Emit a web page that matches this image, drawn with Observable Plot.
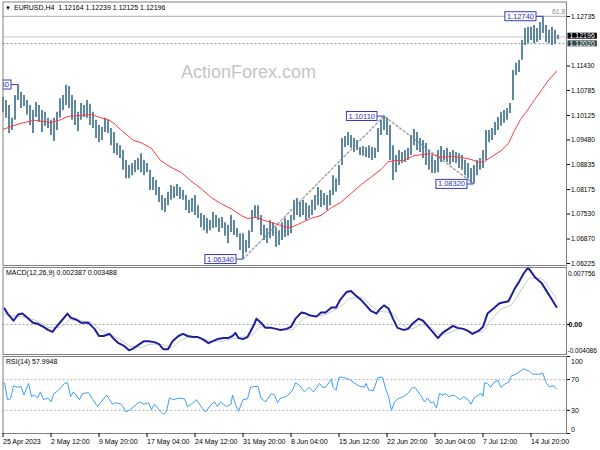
<!DOCTYPE html>
<html><head><meta charset="utf-8">
<script src="https://cdn.jsdelivr.net/npm/d3@7"></script>
<script src="https://cdn.jsdelivr.net/npm/@observablehq/plot@0.6"></script>
<style>
html,body{margin:0;padding:0;background:#fff;}
#chart{position:relative;width:600px;height:450px;overflow:hidden;}
#chart svg{display:block;}
</style></head><body><div id="chart"></div>
<script>
// ---------- DATA ----------
const symbol = "EURUSD,H4";
const lastOHLC = [1.12164, 1.12239, 1.12125, 1.12196];
const watermark = "ActionForex.com";
const fibLevel = 1.1274;
const fibLabel = "61.8";
const levelLine = 1.12020;

// H4 candles, one entry per 2 bars (bar index = 2*k)
const highs = [
 1.1060,1.1052,1.1039,1.1005,1.1065,1.1094,1.1073,1.1065,1.1052,1.1039,
 1.1026,1.1047,1.1039,1.1026,1.1021,1.1005,1.1000,1.1005,1.1021,1.1057,
 1.1065,1.1092,1.1089,1.1065,1.1052,1.1021,1.1044,1.1039,1.1052,1.1042,
 1.1021,1.1000,1.0986,1.0981,1.1005,1.1000,1.0978,1.0968,1.0939,1.0933,
 1.0920,1.0894,1.0881,1.0886,1.0894,1.0899,1.0912,1.0894,1.0886,1.0868,
 1.0849,1.0841,1.0823,1.0802,1.0794,1.0810,1.0828,1.0825,1.0831,1.0823,
 1.0815,1.0802,1.0789,1.0794,1.0802,1.0775,1.0754,1.0749,1.0741,1.0736,
 1.0757,1.0749,1.0741,1.0744,1.0730,1.0723,1.0749,1.0736,1.0715,1.0701,
 1.0701,1.0683,1.0709,1.0762,1.0775,1.0775,1.0749,1.0723,1.0715,1.0736,
 1.0730,1.0717,1.0709,1.0730,1.0741,1.0736,1.0749,1.0789,1.0794,1.0783,
 1.0789,1.0781,1.0775,1.0789,1.0802,1.0823,1.0815,1.0807,1.0802,1.0815,
 1.0854,1.0846,1.0881,1.0952,1.0957,1.0968,1.0960,1.0952,1.0947,1.0928,
 1.0931,1.0928,1.0933,1.0928,1.0926,1.0978,1.1000,1.1011,1.1005,1.0986,
 1.0933,1.0907,1.0920,1.0915,1.0920,1.0926,1.0960,1.0976,1.0968,1.0952,
 1.0947,1.0939,1.0920,1.0907,1.0894,1.0920,1.0931,1.0920,1.0926,1.0915,
 1.0920,1.0915,1.0912,1.0907,1.0894,1.0886,1.0873,1.0881,1.0894,1.0899,
 1.0920,1.0973,1.0973,1.0978,1.0994,1.1007,1.1021,1.1026,1.1031,1.1044,
 1.1131,1.1150,1.1158,1.1210,1.1242,1.1245,1.1245,1.1250,1.1242,1.1258,
 1.1274,1.1250,1.1237,1.1245,1.1237,1.12239];
const lows = [
 1.1021,1.1005,1.0965,1.0973,1.1000,1.1052,1.1031,1.1036,1.1013,1.0986,
 1.0965,1.1007,1.0994,1.0968,1.0984,1.0978,1.0960,1.0944,1.0973,1.1005,
 1.1026,1.1039,1.1031,1.1000,1.0986,1.0970,1.1000,1.1007,1.1005,1.0986,
 1.0978,1.0952,1.0941,1.0947,1.0968,1.0965,1.0933,1.0912,1.0907,1.0899,
 1.0868,1.0846,1.0846,1.0854,1.0862,1.0868,1.0862,1.0854,1.0862,1.0815,
 1.0815,1.0802,1.0783,1.0762,1.0757,1.0775,1.0789,1.0794,1.0799,1.0791,
 1.0789,1.0762,1.0754,1.0757,1.0749,1.0741,1.0717,1.0709,1.0701,1.0709,
 1.0715,1.0717,1.0704,1.0715,1.0694,1.0675,1.0704,1.0696,1.0691,1.0657,
 1.0634,1.0651,1.0662,1.0704,1.0741,1.0736,1.0696,1.0683,1.0675,1.0688,
 1.0694,1.0665,1.0670,1.0683,1.0691,1.0694,1.0701,1.0736,1.0749,1.0744,
 1.0749,1.0736,1.0741,1.0749,1.0762,1.0775,1.0770,1.0775,1.0762,1.0775,
 1.0802,1.0810,1.0828,1.0881,1.0928,1.0933,1.0926,1.0915,1.0920,1.0907,
 1.0905,1.0902,1.0899,1.0894,1.0899,1.0915,1.0960,1.0973,1.0960,1.0894,
 1.0841,1.0862,1.0881,1.0886,1.0889,1.0894,1.0907,1.0933,1.0920,1.0915,
 1.0899,1.0881,1.0868,1.0860,1.0860,1.0862,1.0889,1.0894,1.0889,1.0883,
 1.0889,1.0886,1.0873,1.0868,1.0854,1.0846,1.0833,1.0832,1.0854,1.0868,
 1.0873,1.0894,1.0941,1.0947,1.0960,1.0973,1.0984,1.0992,1.1000,1.1018,
 1.1052,1.1118,1.1126,1.1158,1.1197,1.1202,1.1210,1.1202,1.1205,1.1210,
 1.1229,1.1205,1.1202,1.1197,1.1200,1.12125];

// EMA (red)
const emaBar = [0,12,21,32,39,43,52,59,65,70, 74,79,87,92,99,105,112,119,125,132,
 139,145,152,159,163,169,174,181,187,192, 199,205,212,219,225,232,239,245,252,257,
 262,267,274,285,292,299,305,312,317,321, 325,332,337,341,345,350,354,359,363,369];
const emaVal = [1.0976,1.0992,1.1000,1.0994,1.1002,1.1010,1.1013,1.1015,1.1007,1.1002,
 1.0992,1.0973,1.0947,1.0941,1.0926,1.0894,1.0876,1.0862,1.0841,1.0820,
 1.0796,1.0781,1.0767,1.0749,1.0741,1.0744,1.0736,1.0728,1.0720,1.0717,
 1.0730,1.0741,1.0749,1.0770,1.0783,1.0807,1.0831,1.0849,1.0870,1.0891,
 1.0894,1.0894,1.0907,1.0912,1.0902,1.0905,1.0902,1.0897,1.0889,1.0891,
 1.0902,1.0920,1.0939,1.0973,1.1002,1.1028,1.1052,1.1079,1.1102,1.1129];

// swing highs / lows (labels) and zigzag
const swingBar = [10, 160, 254, 314, 360];
const swingPrice = [1.1094, 1.0634, 1.1011, 1.0832, 1.1274];
const zigBar = [160, 254, 314];
const zigPrice = [1.0634, 1.1011, 1.0832];

const priceTicks = [1.12735,1.11430,1.10785,1.10125,1.09480,1.08835,1.08175,1.07530,1.06870,1.06225];

// MACD
const macdBar = [1,3,7,10,13,17,20,23,27,30, 33,35,39,43,45,49,52,55,57,61,
 64,67,71,74,77,81,84,87,91,94, 97,101,104,107,110,113,117,120,123,127,
 130,133,137,140,143,147,150,153,155,157, 160,163,167,169,172,175,179,182,185,189,
 192,195,199,202,205,209,212,215,219,222, 225,229,232,235,239,242,245,249,251,254,
 257,260,263,267,270,273,277,280,283,287, 290,293,297,300,303,307,310,313,317,320,
 323,327,331,334,337,341,344,347,350,352, 355,359,362,365,369];
const macdMain = [0.00218,0.00149,0.00051,0.00135,0.00149,0.00079,0.00024,0.00010,-0.00032,-0.00074,
 -0.00101,-0.00046,0.00051,0.00149,0.00093,0.00065,0.00024,0.00024,0.00022,-0.00060,
 -0.00157,-0.00157,-0.00129,-0.00199,-0.00254,-0.00296,-0.00352,-0.00324,-0.00268,-0.00227,
 -0.00227,-0.00240,-0.00268,-0.00338,-0.00338,-0.00227,-0.00157,-0.00129,-0.00157,-0.00171,
 -0.00171,-0.00199,-0.00254,-0.00227,-0.00199,-0.00185,-0.00185,-0.00157,-0.00115,-0.00185,
 -0.00199,-0.00171,-0.00018,0.00079,0.00024,-0.00046,-0.00046,-0.00060,-0.00074,-0.00060,
 -0.00032,0.00079,0.00163,0.00149,0.00121,0.00107,0.00163,0.00163,0.00232,0.00232,
 0.00343,0.00441,0.00455,0.00399,0.00329,0.00260,0.00190,0.00149,0.00204,0.00260,
 0.00218,0.00079,-0.00046,-0.00074,-0.00060,0.00010,0.00079,0.00051,-0.00018,-0.00115,
 -0.00185,-0.00115,-0.00060,-0.00018,-0.00046,-0.00060,-0.00088,-0.00129,-0.00088,-0.00032,
 0.00149,0.00218,0.00288,0.00302,0.00316,0.00482,0.00580,0.00691,0.00775,0.00720,
 0.00635,0.00566,0.00468,0.00371,0.002387];
const signalBar = [1,5,12,19,25,32,39,45,52,59, 65,72,79,85,92,99,105,112,119,125,
 132,139,145,152,159,165,172,179,185,192, 199,205,212,219,225,232,239,245,252,259,
 265,272,279,285,292,299,305,312,319,325, 332,339,345,352,359,365,369];
const signalVal = [0.00149,0.00121,0.00107,0.00079,0.00024,-0.00046,-0.00032,0.00065,0.00051,0.00024,
 -0.00074,-0.00143,-0.00213,-0.00296,-0.00310,-0.00268,-0.00268,-0.00310,-0.00213,-0.00171,
 -0.00185,-0.00227,-0.00227,-0.00199,-0.00171,-0.00157,-0.00032,-0.00046,-0.00074,-0.00074,
 0.00051,0.00121,0.00121,0.00177,0.00246,0.00357,0.00371,0.00260,0.00177,0.00163,
 0.00024,-0.00060,-0.00004,-0.00032,-0.00143,-0.00101,-0.00060,-0.00101,-0.00101,0.00051,
 0.00204,0.00274,0.00455,0.00635,0.00621,0.00468,0.003488];
const macdMax = 0.007756, macdMin = -0.004086, macdZero = 0;

// RSI(14)
const rsiBar = [1,3,5,7,10,12,14,17,19,21, 23,25,27,30,32,34,37,41,43,45,
 47,51,53,57,60,63,65,69,71,73, 75,79,82,85,89,91,94,97,99,101,
 104,107,109,111,114,117,121,123,127,129, 132,135,139,141,143,145,149,152,153,155,
 157,160,163,165,167,170,172,175,179,181, 183,185,189,191,193,195,198,199,201,204,
 207,209,211,213,215,219,220,222,224,227, 231,234,237,241,242,244,247,250,253,255,
 257,259,261,264,267,270,273,275,279,281, 283,285,287,289,291,293,295,297,301,303,
 305,307,310,312,314,317,319,320,321,323, 325,327,330,332,335,337,339,342,345,347,
 351,353,357,360,362,364,367,369];
const rsiVal = [66,44,45,62,60,61,50,65,48,50, 46,54,44,46,41,52,56,65,66,48,
 54,44,52,53,44,35,40,50,44,38, 40,38,28,31,38,41,38,40,31,38,
 31,25,29,46,44,46,45,35,40,44, 35,28,38,41,35,41,35,38,50,38,
 29,44,45,60,61,61,46,41,52,50, 40,46,48,52,56,66,62,59,54,60,
 54,59,65,60,60,71,60,56,73,73, 70,66,62,60,65,56,56,73,73,59,
 48,30,41,46,48,52,60,59,48,41, 46,40,41,33,52,50,52,48,50,46,
 44,48,44,38,46,50,52,48,66,65, 60,66,69,60,65,66,75,77,81,84,
 81,77,77,78,66,61,62,57.9948];
const rsiLevels = [70, 30];
const rsiMax = 100, rsiMin = 0;

// time axis
const timeBars = [0,32,64,96,128,160,192,224,256,288,320,352];
const timeLabels = ["25 Apr 2023","2 May 12:00","9 May 20:00","17 May 04:00","24 May 12:00","31 May 20:00",
 "8 Jun 04:00","15 Jun 12:00","22 Jun 20:00","30 Jun 04:00","7 Jul 12:00","14 Jul 20:00"];

// ---------- TABLES ----------
const bars = highs.map((h, k) => ({i: 2 * k, high: h, low: lows[k]}));
const ema = emaBar.map((b, k) => ({i: b, v: emaVal[k]}));
const swings = swingBar.map((b, k) => ({i: b, p: swingPrice[k]}));
const zigzag = zigBar.map((b, k) => ({i: b, p: zigPrice[k]}));
const macd = macdBar.map((b, k) => ({i: b, v: macdMain[k]}));
const signal = signalBar.map((b, k) => ({i: b, v: signalVal[k]}));
const rsi = rsiBar.map((b, k) => ({i: b, v: rsiVal[k]}));

const FONT = "'Liberation Sans', Arial, sans-serif";
const f5 = d => d.toFixed(5);
const X = {domain: [0, 370], range: [2.5, 557.5], axis: null};
const FRAME = "#808080";
const base = {width: 600, marginLeft: 2.5, marginRight: 34,
  style: {fontFamily: FONT, fontSize: "7px", background: "white", color: "black", overflow: "visible"}};

// right-hand scale: tick marks (axis without text or label) + labels as text marks
const rightTicks = (vals) => Plot.axisY(vals, {anchor: "right", tickSize: 3, tickFormat: () => "", label: null});
const rightLabels = (vals, fmt, opts = {}) =>
  Plot.text(vals, {y: d => d, text: fmt, frameAnchor: "right", dx: 4.5, textAnchor: "start", fontSize: 7, fill: "black", ...opts});

const header = `${symbol}  ${lastOHLC.map(f5).join(" ")}`;

const pricePlot = Plot.plot({
  ...base, height: 266, marginTop: 1.5, marginBottom: 1,
  x: X,
  y: {domain: [1.06225, 1.12735], range: [263, 16], axis: null, label: null},
  marks: [
    Plot.text([watermark], {text: d => d, frameAnchor: "top-left", dx: 178, dy: 63, fontSize: 18, fill: "#c4c4c4"}),
    Plot.ruleY([fibLevel], {stroke: "#a8a8a8"}),
    Plot.ruleY([lastOHLC[3]], {stroke: "#c6c6c6"}),
    Plot.ruleY([levelLine], {stroke: "#8c8c8c", strokeDasharray: "2,2"}),
    Plot.line(zigzag, {x: "i", y: "p", stroke: "#a6a6a6", strokeDasharray: "2,2.5"}),
    Plot.ruleX(bars, {x: "i", y1: "low", y2: "high", stroke: "#5f88a0", strokeWidth: 2}),
    Plot.line(ema, {x: "i", y: "v", stroke: "#ff3b3b", strokeWidth: 1}),
    Plot.ruleY(swings, {y: "p", x1: d => d.i - 5, x2: "i", stroke: "#3a3ac6"}),
    Plot.text(swings, {x: "i", y: "p", text: d => f5(d.p), textAnchor: "end", dx: -9, fill: "#3030bf", fontSize: 7.5, ariaDescription: "swing-label", clip: true}),
    Plot.text([fibLevel], {y: d => d, text: () => fibLabel, frameAnchor: "right", textAnchor: "end", dx: -1, dy: -5, fill: "#8a8a8a", fontSize: 7}),
    Plot.text(["▼"], {text: d => d, frameAnchor: "top-left", dx: 2, dy: 4, fontSize: 6}),
    Plot.text([header], {text: d => d, frameAnchor: "top-left", dx: 11, dy: 3.5, fontSize: 7}),
    Plot.frame({stroke: FRAME}),
    rightTicks(priceTicks),
    rightLabels(priceTicks, f5, {fontSize: 6.6}),
    rightLabels([levelLine], f5, {dx: 3, fill: "white", ariaDescription: "level-label"}),
    rightLabels([lastOHLC[3]], f5, {dx: 3, dy: -1, fill: "white", ariaDescription: "bid-label"})
  ]
});

const macdHeader = `MACD(12,26,9) ${macdMain[macdMain.length - 1].toFixed(6)} ${signalVal[signalVal.length - 1].toFixed(6)}`;
const macdPlot = Plot.plot({
  ...base, height: 89, marginTop: 1, marginBottom: 1,
  x: X,
  y: {domain: [macdMin, macdMax], range: [88, 1], axis: null, label: null},
  marks: [
    Plot.ruleY([macdZero], {stroke: "#a8a8a8", strokeDasharray: "2,2"}),
    Plot.line(signal, {x: "i", y: "v", stroke: "#c8c8c8", strokeWidth: 1, curve: "monotone-x"}),
    Plot.line(macd, {x: "i", y: "v", stroke: "#1f1f9c", strokeWidth: 2}),
    Plot.text([macdHeader], {text: d => d, frameAnchor: "top-left", dx: 3, dy: 3, fontSize: 7}),
    Plot.frame({stroke: FRAME}),
    rightTicks([macdZero]),
    rightLabels([macdMax], d => d.toFixed(6), {dx: 1.5, dy: 6, fontSize: 6.5}),
    rightLabels([macdZero], d => d.toFixed(2), {dx: 2, fontWeight: "bold"}),
    rightLabels([macdMin], d => d.toFixed(6), {dx: 1, dy: -4, fontSize: 6.5})
  ]
});

const rsiHeader = `RSI(14) ${rsiVal[rsiVal.length - 1].toFixed(4)}`;
const labelOf = new Map(timeBars.map((b, k) => [b, timeLabels[k]]));
const rsiPlot = Plot.plot({
  ...base, height: 95, marginTop: 1, marginBottom: 17,
  x: X,
  y: {domain: [rsiMin, rsiMax], range: [78, 1], axis: null, label: null},
  marks: [
    Plot.ruleY(rsiLevels, {stroke: "#b4b4b4", strokeDasharray: "2,2"}),
    Plot.line(rsi, {x: "i", y: "v", stroke: "#3d9cff", strokeWidth: 1}),
    Plot.text([rsiHeader], {text: d => d, frameAnchor: "top-left", dx: 3, dy: 3, fontSize: 7}),
    Plot.frame({stroke: FRAME}),
    rightTicks([rsiMax, ...rsiLevels, rsiMin]),
    rightLabels([rsiMax], d => d, {dy: 5}),
    rightLabels(rsiLevels, d => d),
    rightLabels([rsiMin], d => d, {dy: -4}),
    Plot.axisX(timeBars, {anchor: "bottom", tickSize: 4, tickPadding: 2, textAnchor: "start", tickFormat: d => labelOf.get(d), fontSize: 7, label: null})
  ]
});

const root = document.getElementById("chart");
root.append(pricePlot, macdPlot, rsiPlot);

function boxify(svg, label, fill, stroke, px, py) {
  svg.querySelectorAll(`g[aria-description="${label}"] text`).forEach(t => {
    const b = t.getBBox();
    const r = document.createElementNS("http://www.w3.org/2000/svg", "rect");
    r.setAttribute("x", b.x - px);
    r.setAttribute("y", b.y - py);
    r.setAttribute("width", b.width + 2 * px);
    r.setAttribute("height", b.height + 2 * py);
    r.setAttribute("fill", fill);
    if (stroke) { r.setAttribute("stroke", stroke); r.setAttribute("stroke-width", 1); }
    const tr = t.getAttribute("transform");
    if (tr) r.setAttribute("transform", tr);
    t.parentNode.insertBefore(r, t);
  });
}
boxify(pricePlot, "swing-label", "white", "#3a3ac6", 2, 0);
boxify(pricePlot, "level-label", "#33484e", null, 2, -0.5);
boxify(pricePlot, "bid-label", "#000000", null, 2, -0.5);
</script></body></html>
